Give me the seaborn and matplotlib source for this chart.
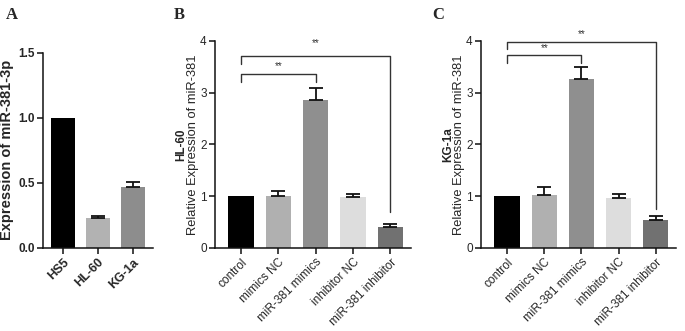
import numpy as np
import seaborn as sns
import matplotlib.pyplot as plt

# Panel A data
cells = ["HS5", "HL-60", "KG-1a"]
cells_expr = [1.0, 0.233, 0.467]
cells_err = [0.0, 0.012, 0.04]
cells_colors = ["#000000", "#b2b2b2", "#8d8d8d"]

# Panels B/C data
groups = ["control", "mimics NC", "miR-381 mimics", "inhibitor NC", "miR-381 inhibitor"]
hl60_expr = [1.0, 1.0, 2.86, 0.985, 0.405]
hl60_err = [0.0, 0.11, 0.24, 0.055, 0.065]
kg1a_expr = [1.0, 1.03, 3.26, 0.975, 0.535]
kg1a_err = [0.0, 0.15, 0.24, 0.075, 0.075]
group_colors = ["#000000", "#b0b0b0", "#8f8f8f", "#dddddd", "#717171"]

# significance brackets: (left bottom, top, right bottom) for inner and outer
hl60_inner = (3.21, 3.37, 3.21)
hl60_outer = (3.56, 3.71, 0.69)
kg1a_inner = (3.58, 3.73, 3.58)
kg1a_outer = (3.84, 3.98, 0.76)

sns.set_style("ticks")
plt.rcParams['font.family'] = ['Liberation Sans', 'DejaVu Sans']

fig = plt.figure(figsize=(6.85, 3.31), dpi=100)
axA = fig.add_axes([0.0628, 0.2508, 0.1606, 0.590])
axB = fig.add_axes([0.3139, 0.2508, 0.2860, 0.6254])
axC = fig.add_axes([0.7022, 0.2508, 0.2850, 0.6254])


def draw_bars(ax, cats, vals, errs, colors):
    sns.barplot(x=cats, y=vals, hue=cats, palette=colors, legend=False,
                ax=ax, width=0.68, saturation=1, linewidth=0)
    # only groups with a spread get an error bar (control is normalised to 1)
    idx = np.array([i for i, e in enumerate(errs) if e > 0])
    ax.errorbar(idx, np.array(vals)[idx], yerr=[np.zeros(len(idx)), np.array(errs)[idx]],
                fmt='none', ecolor='#111111', elinewidth=1.3, capsize=5, capthick=1.3)
    for s in ["top", "right"]:
        ax.spines[s].set_visible(False)
    for s in ["left", "bottom"]:
        ax.spines[s].set_linewidth(1.1)
        ax.spines[s].set_color("#111111")
    ax.tick_params(axis='both', length=4, width=1.1, color="#111111", pad=2)


def bracket(ax, x0, x1, levels, star_y):
    lo_left, top, lo_right = levels
    ax.plot([x0, x0, x1, x1], [lo_left, top, top, lo_right], color="#333333",
            lw=1.0, clip_on=False)
    ax.text((x0 + x1) / 2, star_y, "**", ha='center', va='center', fontsize=7,
            color="#333333")


# Panel A
draw_bars(axA, cells, cells_expr, cells_err, cells_colors)
axA.set_xlim(-0.57, 2.58)
axA.set_ylim(0, 1.5)
axA.set_yticks([0.0, 0.5, 1.0, 1.5])
axA.set_yticklabels(["0.0", "0.5", "1.0", "1.5"], fontsize=8.5, fontweight='bold')
axA.set_xticks(range(3))
axA.set_xticklabels(cells, rotation=45, ha='right', rotation_mode='anchor',
                    fontsize=9, fontweight='bold')
axA.set_ylabel("Expression of miR-381-3p", fontsize=10.5, fontweight='bold', labelpad=3)
axA.set_xlabel("")

# Panels B and C
for ax, vals, errs, name, inner, outer, star_in, star_out in [
        (axB, hl60_expr, hl60_err, "HL-60", hl60_inner, hl60_outer, 3.52, 3.95),
        (axC, kg1a_expr, kg1a_err, "KG-1a", kg1a_inner, kg1a_outer, 3.86, 4.13)]:
    draw_bars(ax, groups, vals, errs, group_colors)
    ax.set_xlim(-0.7, 4.55)
    ax.set_ylim(0, 4)
    ax.set_yticks([0, 1, 2, 3, 4])
    ax.set_yticklabels(["0", "1", "2", "3", "4"], fontsize=8.5)
    ax.set_xticks(range(5))
    ax.set_xticklabels(groups, rotation=45, ha='right', rotation_mode='anchor', fontsize=8.5)
    ax.set_ylabel("Relative Expression of miR-381", fontsize=9.3, labelpad=1)
    ax.set_xlabel("")
    ax.text(-0.17, 0.5, name, transform=ax.transAxes, rotation=90, ha='center',
            va='center', fontsize=8.5, fontweight='bold')
    bracket(ax, 0, 2, inner, star_in)
    bracket(ax, 0, 4, outer, star_out)

# panel letters
for x, letter in [(12, "A"), (179, "B"), (438, "C")]:
    fig.text(x / 685, 1 - 15 / 331, letter, ha='center', va='center', fontsize=12,
             fontweight='bold', family=['Liberation Serif', 'DejaVu Serif'])

fig.savefig("out.png", dpi=100)
